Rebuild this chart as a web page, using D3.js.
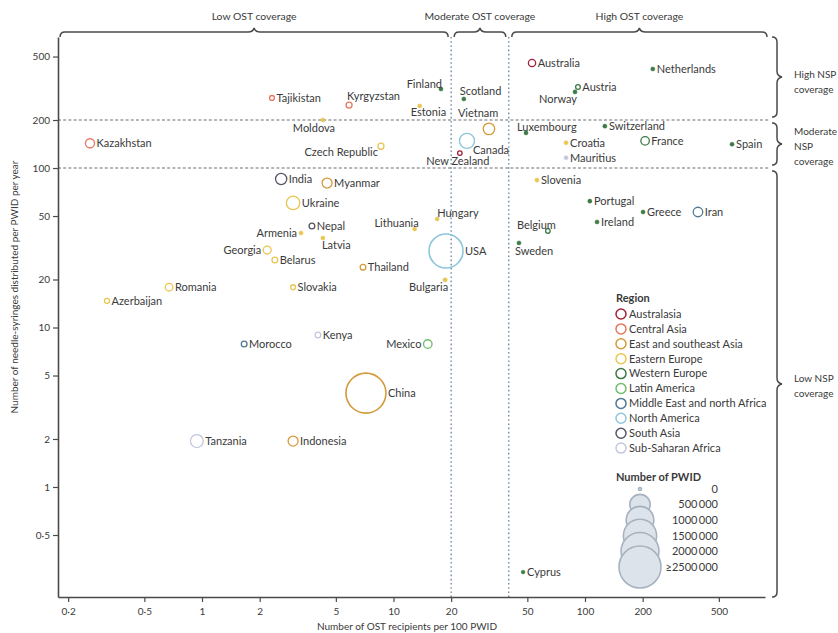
<!DOCTYPE html>
<html>
<head>
<meta charset="utf-8">
<script src="https://cdn.jsdelivr.net/npm/d3@7"></script>
<style>
  html, body { margin: 0; padding: 0; background: #fff; }
  svg { display: block; font-family: Lato, "Noto Sans", sans-serif; }
</style>
</head>
<body>
<svg id="chart" width="838" height="633"></svg>
<script>
// Countries and their coverage values
const countries = ["Kazakhstan","Tajikistan","Kyrgyzstan","Moldova","Czech Republic","Finland","Estonia","Scotland","Vietnam","Canada","New Zealand","Australia","Netherlands","Austria","Norway","Luxembourg","Switzerland","Croatia","France","Spain","Mauritius","Slovenia","Portugal","Greece","Iran","Ireland","Belgium","Sweden","Hungary","Lithuania","USA","Bulgaria","Thailand","Mexico","India","Myanmar","Ukraine","Nepal","Armenia","Latvia","Georgia","Belarus","Slovakia","Romania","Azerbaijan","Morocco","Kenya","China","Tanzania","Indonesia","Cyprus"];

// OST recipients per 100 PWID
const ostPer100 = [0.26,2.32,5.86,4.28,8.6,17.7,13.7,23.3,31.5,24.2,22.2,52.9,226,91.9,88.7,49.2,127,79.6,206,586,79.6,56.1,106,201,389,115.6,64,45.2,16.9,12.9,18.8,18.6,6.93,15.1,2.59,4.5,2.99,3.75,3.29,4.28,2.19,2.40,2.99,0.673,0.319,1.66,4.03,7.18,0.94,2.99,47.5];

// Needle-syringes distributed per PWID per year
const nspPerPwid = [143,275,248,200,137,313,245,271,176,148,124,455,418,322,300,166,183,144,148,141,116,84,62,53,53,45.9,40.3,33.9,47.9,41.5,30.2,19.9,23.9,7.88,85.3,80.5,60.4,43.3,39.1,36.4,30.6,26.5,17.9,17.9,14.7,7.88,8.97,3.88,1.94,1.94,0.293];

// Estimated number of people who inject drugs
const pwidCount = [60000,6000,15000,2000,15000,2000,2000,2000,120000,240000,4000,30000,2000,5000,2000,2000,2000,2000,50000,2000,2000,2000,2000,2000,70000,2000,4000,2000,2000,2000,1580000,3000,12000,50000,110000,80000,180000,12000,2000,2000,40000,12000,6000,35000,7000,12000,12000,2250000,160000,80000,1000];

const countryRegion = ["Central Asia","Central Asia","Central Asia","Eastern Europe","Eastern Europe","Western Europe","Eastern Europe","Western Europe","East and southeast Asia","North America","Australasia","Australasia","Western Europe","Western Europe","Western Europe","Western Europe","Western Europe","Eastern Europe","Western Europe","Western Europe","Sub-Saharan Africa","Eastern Europe","Western Europe","Western Europe","Middle East and north Africa","Western Europe","Western Europe","Western Europe","Eastern Europe","Eastern Europe","North America","Eastern Europe","East and southeast Asia","Latin America","South Asia","East and southeast Asia","Eastern Europe","South Asia","Eastern Europe","Eastern Europe","Eastern Europe","Eastern Europe","Eastern Europe","Eastern Europe","Eastern Europe","Middle East and north Africa","Sub-Saharan Africa","East and southeast Asia","Sub-Saharan Africa","East and southeast Asia","Western Europe"];

// Regions and their colours
const regions = ["Australasia","Central Asia","East and southeast Asia","Eastern Europe","Western Europe","Latin America","Middle East and north Africa","North America","South Asia","Sub-Saharan Africa"];
const regionColors = ["#a3213a","#e9765f","#d39a3b","#e9c652","#3d7a45","#6dbf6a","#4f7895","#8ec7dd","#555566","#c3c7de"];

// Coverage thresholds
const ostThresholds = [20, 40];
const nspThresholds = [100, 200];
const ostBands = ["Low OST coverage","Moderate OST coverage","High OST coverage"];
const nspBands = [["Low NSP","coverage"],["Moderate","NSP","coverage"],["High NSP","coverage"]];

// Axis ticks
const xTicks = [0.2,0.5,1,2,5,10,20,50,100,200,500];
const yTicks = [0.5,1,2,5,10,20,50,100,200,500];

// Size legend
const sizeLegendValues = [0,500000,1000000,1500000,2000000,2500000];
const sizeLegendLabels = ["0","500\u2009000","1000\u2009000","1500\u2009000","2000\u2009000","\u22652500\u2009000"];

// Label placement: [anchor, dx, dy]; anything absent sits to the right
const labelPlacement = {
  "Kyrgyzstan": ["start", -2, -9],
  "Moldova": ["middle", -9, 8],
  "Czech Republic": ["end", -3, 6],
  "Finland": ["end", 1, -5],
  "Estonia": ["start", -9, 6],
  "Scotland": ["start", -4, -8],
  "Vietnam": ["start", -31, -16],
  "Canada": ["start", 6, 9],
  "New Zealand": ["middle", -2, 8],
  "Norway": ["end", 2, 7],
  "Luxembourg": ["start", -9, -6],
  "Belgium": ["start", -31, -6],
  "Sweden": ["start", -4, 8],
  "Hungary": ["start", 0, -6],
  "Lithuania": ["end", 4, -6],
  "Bulgaria": ["end", 3, 7],
  "Latvia": ["start", -1, 7],
  "Mexico": ["left"],
  "Armenia": ["left"],
  "Georgia": ["left"]
};

const svg = d3.select("#chart");
const color = d3.scaleOrdinal().domain(regions).range(regionColors);

const plotLeft = 58, plotRight = 765, plotTop = 37, plotBottom = 597;
const x = d3.scaleLog().domain([0.177, 871]).range([plotLeft, plotRight]);
const y = d3.scaleLog().domain([0.2043, 663]).range([plotBottom, plotTop]);
const r = d3.scaleSqrt().domain([0, 2500000]).range([1.5, 21]).clamp(true);

const fmt = d => String(d).replace(".", "\u00b7");
const textColor = "#3a3a3a";

// Threshold reference lines
svg.append("g").selectAll("line").data(nspThresholds).join("line")
  .attr("x1", plotLeft).attr("x2", plotRight + 5)
  .attr("y1", d => y(d)).attr("y2", d => y(d))
  .attr("stroke", "#6b6f75").attr("stroke-width", 1.1)
  .attr("stroke-dasharray", "3,2.2");
svg.append("g").selectAll("line").data(ostThresholds).join("line")
  .attr("x1", d => x(d)).attr("x2", d => x(d))
  .attr("y1", plotTop).attr("y2", plotBottom)
  .attr("stroke", "#5e7b92").attr("stroke-width", 1.2)
  .attr("stroke-dasharray", "1.6,2.6");

// Axes
const xAxis = svg.append("g").attr("transform", `translate(0,${plotBottom})`)
  .call(d3.axisBottom(x).tickValues(xTicks).tickFormat(fmt).tickSize(5).tickSizeOuter(0));
const yAxis = svg.append("g").attr("transform", `translate(${plotLeft},0)`)
  .call(d3.axisLeft(y).tickValues(yTicks).tickFormat(fmt).tickSize(5).tickSizeOuter(0));
[xAxis, yAxis].forEach(a => {
  a.select(".domain").attr("stroke", "#4a4a4a").attr("stroke-width", 1.6);
  a.selectAll(".tick line").attr("stroke", "#4a4a4a").attr("stroke-width", 1.2);
  a.selectAll(".tick text").attr("fill", textColor).style("font-size", "10px")
    .style("font-family", "Lato, 'Noto Sans', sans-serif");
});
xAxis.selectAll(".tick text").attr("dy", "0.95em");

svg.append("text")
  .attr("x", 407).attr("y", 630)
  .attr("text-anchor", "middle").attr("fill", textColor).style("font-size", "10px")
  .text("Number of OST recipients per 100 PWID");
svg.append("text")
  .attr("transform", `translate(18,${287}) rotate(-90)`)
  .attr("text-anchor", "middle").attr("fill", textColor).style("font-size", "10px")
  .text("Number of needle-syringes distributed per PWID per year");

// Curly braces marking the coverage bands
function hBrace(x1, x2, yy) {
  const m = (x1 + x2) / 2, h = 5;
  return `M${x1},${yy + h} Q${x1},${yy} ${x1 + h},${yy} L${m - 6},${yy} Q${m - 1},${yy} ${m},${yy - 4} Q${m + 1},${yy} ${m + 6},${yy} L${x2 - h},${yy} Q${x2},${yy} ${x2},${yy + h}`;
}
function vBrace(y1, y2, xx) {
  const m = (y1 + y2) / 2, h = 5;
  return `M${xx - h},${y1} Q${xx},${y1} ${xx},${y1 + h} L${xx},${m - 6} Q${xx},${m - 1} ${xx + 5},${m} Q${xx},${m + 1} ${xx},${m + 6} L${xx},${y2 - h} Q${xx},${y2} ${xx - h},${y2}`;
}
const ostEdges = [x.domain()[0], ...ostThresholds, x.domain()[1]];
const braceG = svg.append("g").attr("fill", "none").attr("stroke", "#4a4a4a").attr("stroke-width", 1.5);
ostBands.forEach((label, i) => {
  const x1 = (i === 0 ? plotLeft + 2 : x(ostEdges[i]) + 3);
  const x2 = (i === 2 ? plotRight + 2 : x(ostEdges[i + 1]) - 3);
  braceG.append("path").attr("d", hBrace(x1, x2, 32));
  svg.append("text").attr("x", (x1 + x2) / 2).attr("y", 20)
    .attr("text-anchor", "middle").attr("fill", textColor).style("font-size", "10.4px").text(label);
});
const nspEdges = [y.domain()[0], ...nspThresholds, y.domain()[1]];
nspBands.forEach((lines, i) => {
  const y1 = (i === 2 ? plotTop : y(nspEdges[i + 1]) + 3);
  const y2 = (i === 0 ? plotBottom : y(nspEdges[i]) - 3);
  braceG.append("path").attr("d", vBrace(y1, y2, 777));
  const mid = (y1 + y2) / 2 + (i === 2 ? 5 : 2);
  const t = svg.append("text").attr("fill", textColor).style("font-size", "10px");
  lines.forEach((ln, k) => {
    t.append("tspan").attr("x", 794)
      .attr("y", mid + (k - (lines.length - 1) / 2) * 15 + 3.5).text(ln);
  });
});

// Country bubbles and labels
const data = countries.map((c, i) => ({
  name: c, ost: ostPer100[i], nsp: nspPerPwid[i], pwid: pwidCount[i], region: countryRegion[i]
}));
const isDot = d => r(d.pwid) < 2.2;
const points = svg.append("g");
points.selectAll("circle").data(data.slice().sort((a, b) => b.pwid - a.pwid)).join("circle")
  .attr("cx", d => x(d.ost)).attr("cy", d => y(d.nsp)).attr("r", d => r(d.pwid))
  .attr("fill", d => isDot(d) ? color(d.region) : "none")
  .attr("stroke", d => color(d.region))
  .attr("stroke-width", d => isDot(d) ? 0.5 : (r(d.pwid) > 12 ? 1.6 : 1.3));

points.selectAll("text").data(data).join("text")
  .each(function (d) {
    const p = labelPlacement[d.name];
    const rr = r(d.pwid);
    let anchor = "start", dx = rr + 2, dy = 0;
    if (p && p[0] === "left") { anchor = "end"; dx = -rr - 2; }
    else if (p) { anchor = p[0]; dx = p[1]; dy = p[2]; }
    d3.select(this)
      .attr("x", x(d.ost) + dx).attr("y", y(d.nsp) + dy)
      .attr("dy", "0.35em").attr("text-anchor", anchor);
  })
  .attr("fill", textColor).style("font-size", "11px")
  .text(d => d.name);

// Region legend
const lg = svg.append("g").attr("transform", "translate(615,0)");
lg.append("text").attr("x", 1).attr("y", 302).attr("fill", textColor)
  .style("font-size", "11px").style("font-weight", "bold").text("Region");
regions.forEach((reg, i) => {
  const yy = 314 + i * 14.9;
  lg.append("circle").attr("cx", 6).attr("cy", yy).attr("r", 5)
    .attr("fill", "none").attr("stroke", color(reg)).attr("stroke-width", 1.5);
  lg.append("text").attr("x", 14).attr("y", yy).attr("dy", "0.35em")
    .attr("fill", textColor).style("font-size", "11px").text(reg);
});

// Size legend
lg.append("text").attr("x", 1).attr("y", 481).attr("fill", textColor)
  .style("font-size", "11px").style("font-weight", "bold").text("Number of PWID");
sizeLegendValues.forEach((v, i) => {
  const yy = 489 + i * 15.6;
  lg.append("circle").attr("cx", 25).attr("cy", yy).attr("r", r(v))
    .attr("fill", "#dde3ea").attr("stroke", "#a7b2bf").attr("stroke-width", 1.6);
  lg.append("text").attr("x", 103).attr("y", yy).attr("dy", "0.35em")
    .attr("text-anchor", "end").attr("fill", textColor).style("font-size", "11px")
    .text(sizeLegendLabels[i]);
});
</script>
</body>
</html>
